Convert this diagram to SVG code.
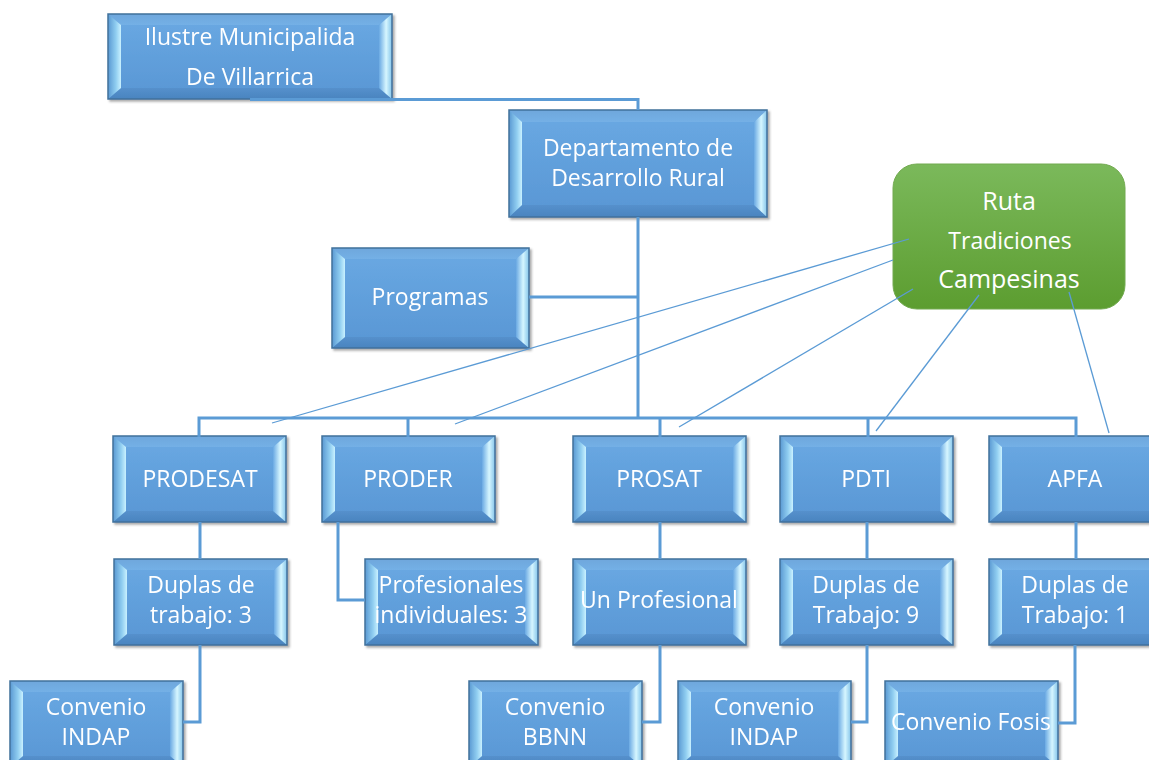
<svg xmlns="http://www.w3.org/2000/svg" xmlns:xlink="http://www.w3.org/1999/xlink" width="1149" height="760" viewBox="0 0 1149 760">
<style>
.face{fill:url(#gFace)}
.bt{fill:url(#gTop)}
.bb{fill:url(#gBot)}
.bl{fill:url(#gLeft)}
.br{fill:url(#gRight)}
.edge{fill:none;stroke:#41719c;stroke-width:1.5}
.t{font-family:"Open Sans","Liberation Sans",sans-serif;font-size:23px;fill:#ffffff;text-anchor:middle}
.tree{fill:none;stroke:#5b9bd5;stroke-width:3}
.thin{fill:none;stroke:#5b9bd5;stroke-width:1.3}
</style>
<defs>
<linearGradient id="gFace" x1="0" y1="0" x2="0" y2="1"><stop offset="0" stop-color="#6aa9e3"/><stop offset="1" stop-color="#5896d4"/></linearGradient>
<linearGradient id="gTop" x1="0" y1="0" x2="0" y2="1"><stop offset="0" stop-color="#6ea7dc"/><stop offset="1" stop-color="#74b0e6"/></linearGradient>
<linearGradient id="gBot" x1="0" y1="0" x2="0" y2="1"><stop offset="0" stop-color="#5590cc"/><stop offset="1" stop-color="#4a84bf"/></linearGradient>
<linearGradient id="gLeft" x1="0" y1="0" x2="1" y2="0"><stop offset="0" stop-color="#5a98d2"/><stop offset="0.6" stop-color="#8fcdf0"/><stop offset="1" stop-color="#c9f1ff"/></linearGradient>
<linearGradient id="gRight" x1="0" y1="0" x2="1" y2="0"><stop offset="0" stop-color="#6aa9e3"/><stop offset="0.55" stop-color="#d6f6ff"/><stop offset="1" stop-color="#84c4ea"/></linearGradient>
<linearGradient id="gGreen" x1="0" y1="0" x2="0" y2="1"><stop offset="0" stop-color="#7bb95b"/><stop offset="1" stop-color="#5c9d30"/></linearGradient>
<filter id="sh" x="-5%" y="-5%" width="115%" height="120%"><feDropShadow dx="2" dy="2" stdDeviation="1.2" flood-color="#444" flood-opacity="0.45"/></filter>
<g id="box">
<rect x="0" y="0" width="173" height="86" class="face"/>
<polygon points="0,0 173,0 160,11 13,11" class="bt"/>
<polygon points="0,86 173,86 160,75 13,75" class="bb"/>
<polygon points="0,0 13,11 13,75 0,86" class="bl"/>
<polygon points="173,0 160,11 160,75 173,86" class="br"/>
<rect x="0" y="0" width="173" height="86" class="edge"/>
</g>
</defs>
<rect width="1149" height="760" fill="#ffffff"/>

<g id="n-ilustre" filter="url(#sh)">
<rect x="108" y="14" width="284" height="85" class="face"/>
<polygon points="108,14 392,14 379,25 121,25" class="bt"/>
<polygon points="108,99 392,99 379,88 121,88" class="bb"/>
<polygon points="108,14 121,25 121,88 108,99" class="bl"/>
<polygon points="392,14 379,25 379,88 392,99" class="br"/>
<rect x="108" y="14" width="284" height="85" class="edge"/>
<text class="t" x="250" y="45">Ilustre Municipalida</text>
<text class="t" x="250" y="85">De Villarrica</text>
</g>

<g id="n-depto" filter="url(#sh)">
<rect x="509" y="110" width="258" height="107" class="face"/>
<polygon points="509,110 767,110 754,122 522,122" class="bt"/>
<polygon points="509,217 767,217 754,205 522,205" class="bb"/>
<polygon points="509,110 522,122 522,205 509,217" class="bl"/>
<polygon points="767,110 754,122 754,205 767,217" class="br"/>
<rect x="509" y="110" width="258" height="107" class="edge"/>
<text class="t" x="638" y="156">Departamento de</text>
<text class="t" x="638" y="186">Desarrollo Rural</text>
</g>

<g id="n-programas" filter="url(#sh)">
<rect x="332" y="248" width="197" height="100" class="face"/>
<polygon points="332,248 529,248 516,259 345,259" class="bt"/>
<polygon points="332,348 529,348 516,337 345,337" class="bb"/>
<polygon points="332,248 345,259 345,337 332,348" class="bl"/>
<polygon points="529,248 516,259 516,337 529,348" class="br"/>
<rect x="332" y="248" width="197" height="100" class="edge"/>
<text class="t" x="430" y="305">Programas</text>
</g>

<g id="n-ruta">
<rect x="893" y="164" width="232" height="145" rx="24" ry="24" fill="url(#gGreen)" stroke="#72aa50" stroke-width="1"/>
<text class="t" x="1009" y="210" style="font-size:25px">Ruta</text>
<text class="t" x="1010" y="249">Tradiciones</text>
<text class="t" x="1009" y="288" style="font-size:25px">Campesinas</text>
</g>

<g id="n-prodesat" filter="url(#sh)"><use xlink:href="#box" x="113" y="436"/><text class="t" x="200" y="487">PRODESAT</text></g>
<g id="n-proder" filter="url(#sh)"><use xlink:href="#box" x="322" y="436"/><text class="t" x="408" y="487">PRODER</text></g>
<g id="n-prosat" filter="url(#sh)"><use xlink:href="#box" x="573" y="436"/><text class="t" x="659" y="487">PROSAT</text></g>
<g id="n-pdti" filter="url(#sh)"><use xlink:href="#box" x="780" y="436"/><text class="t" x="866" y="487">PDTI</text></g>
<g id="n-apfa" filter="url(#sh)"><use xlink:href="#box" x="989" y="436"/><text class="t" x="1075" y="487">APFA</text></g>

<g id="n-duplas1" filter="url(#sh)"><use xlink:href="#box" x="114" y="559"/><text class="t" x="201" y="593">Duplas de</text><text class="t" x="201" y="623">trabajo: 3</text></g>
<g id="n-profesionales" filter="url(#sh)"><use xlink:href="#box" x="365" y="559"/><text class="t" x="451" y="593">Profesionales</text><text class="t" x="451" y="623">individuales: 3</text></g>
<g id="n-unprof" filter="url(#sh)"><use xlink:href="#box" x="573" y="559"/><text class="t" x="659" y="608">Un Profesional</text></g>
<g id="n-duplas9" filter="url(#sh)"><use xlink:href="#box" x="780" y="559"/><text class="t" x="866" y="593">Duplas de</text><text class="t" x="866" y="623">Trabajo: 9</text></g>
<g id="n-duplas1b" filter="url(#sh)"><use xlink:href="#box" x="989" y="559"/><text class="t" x="1075" y="593">Duplas de</text><text class="t" x="1075" y="623">Trabajo: 1</text></g>

<g id="n-indap1" filter="url(#sh)"><use xlink:href="#box" x="10" y="681"/><text class="t" x="96" y="715">Convenio</text><text class="t" x="96" y="745">INDAP</text></g>
<g id="n-bbnn" filter="url(#sh)"><use xlink:href="#box" x="469" y="681"/><text class="t" x="555" y="715">Convenio</text><text class="t" x="555" y="745">BBNN</text></g>
<g id="n-indap2" filter="url(#sh)"><use xlink:href="#box" x="678" y="681"/><text class="t" x="764" y="715">Convenio</text><text class="t" x="764" y="745">INDAP</text></g>
<g id="n-fosis" filter="url(#sh)"><use xlink:href="#box" x="885" y="681"/><text class="t" x="971" y="730">Convenio Fosis</text></g>

<g id="connectors">
<path class="tree" d="M250,99.5 H638 V110"/>
<path class="tree" d="M638,217 V418"/>
<path class="tree" d="M529,297 H638"/>
<path class="tree" d="M199,437 V418 H1076 V437"/>
<path class="tree" d="M408,418 V437"/>
<path class="tree" d="M660,418 V437"/>
<path class="tree" d="M868,418 V437"/>
<path class="tree" d="M200,522 V559"/>
<path class="tree" d="M338,522 V600 H365"/>
<path class="tree" d="M660,522 V559"/>
<path class="tree" d="M867,522 V559"/>
<path class="tree" d="M1076,522 V559"/>
<path class="tree" d="M200,645 V722 H183"/>
<path class="tree" d="M660,645 V722 H642"/>
<path class="tree" d="M867,645 V722 H851"/>
<path class="tree" d="M1075,645 V723 H1058"/>
<path class="thin" d="M909,239 L272,423"/>
<path class="thin" d="M893,260 L455,424"/>
<path class="thin" d="M913,289 L679,427"/>
<path class="thin" d="M979,295 L876,431"/>
<path class="thin" d="M1069,292 L1109,433"/>
</g>
</svg>
